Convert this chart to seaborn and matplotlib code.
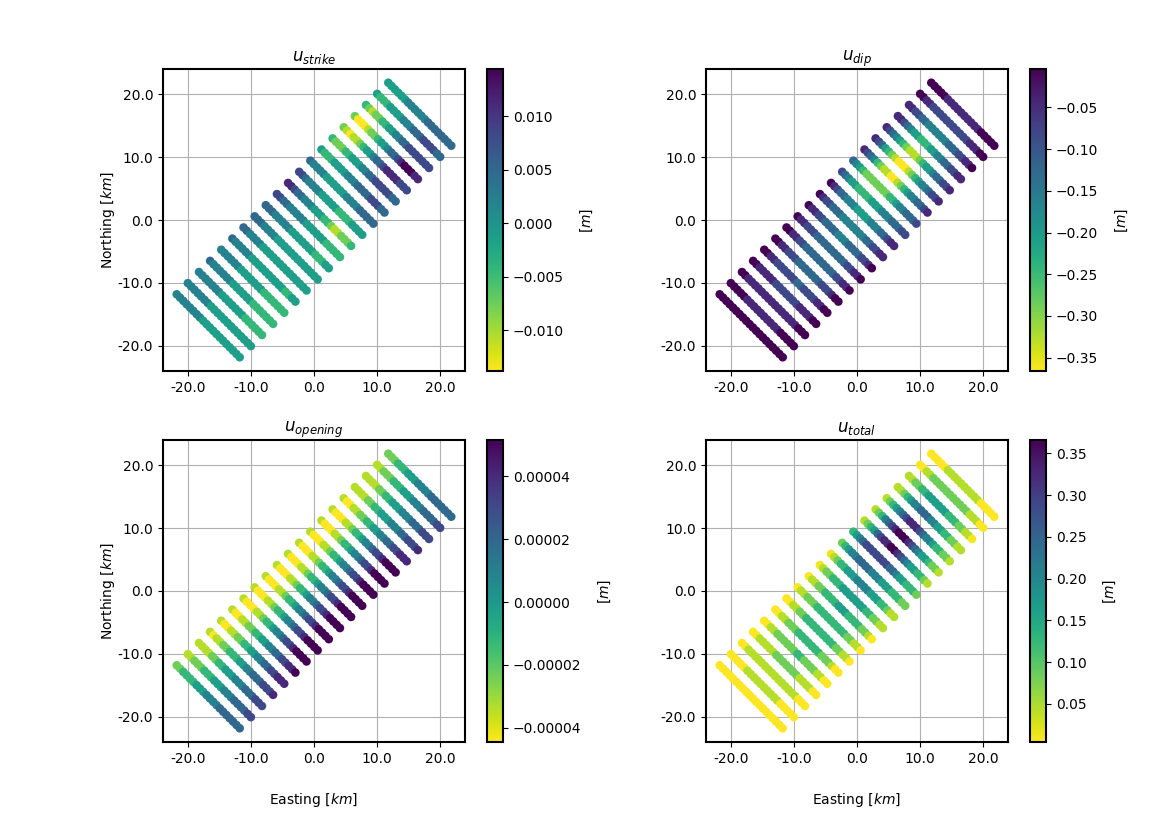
import numpy as np
import pandas as pd
import matplotlib
matplotlib.use("Agg")
import matplotlib.pyplot as plt
import seaborn as sns
from matplotlib.ticker import FormatStrFormatter, ScalarFormatter
from matplotlib.colors import Normalize
from matplotlib.cm import ScalarMappable

# ---------------- fault-patch geometry (km) ----------------
strike_deg = 45.0
along_strike_km = [-23.75, -21.25, -18.75, -16.25, -13.75, -11.25, -8.75, -6.25, -3.75, -1.25,
                   1.25, 3.75, 6.25, 8.75, 11.25, 13.75, 16.25, 18.75, 21.25, 23.75]
across_strike_km = [-7.07, -6.33, -5.58, -4.84, -4.09, -3.35, -2.61, -1.86, -1.12, -0.37,
                    0.37, 1.12, 1.86, 2.61, 3.35, 4.09, 4.84, 5.58, 6.33, 7.07]

# ---------------- values ----------------
# each string = one row of patches (SW -> NE), digits = colour level 0 (min) .. 9 (max)
strike_range = (-0.0138, 0.0144)
strike_levels = [
    "55555555444444444444",
    "55555554444444444444",
    "55555554444444333333",
    "65555554444443333333",
    "55555544444443333333",
    "65555544444444443344",
    "66555544444444444444",
    "66655554444444444444",
    "66655555444444433344",
    "77665555544444433333",
    "88766555444332112223",
    "77655554444433334444",
    "65555444444555566666",
    "43334444555666677766",
    "32223344455667777766",
    "21011234456678888777",
    "20001223445667899988",
    "32122334455667777777",
    "43334444555666777766",
    "44444455555566666666",
]

dip_range = (-0.366, -0.004)
dip_levels = [
    "99999999999999999999",
    "99999888888888899999",
    "99888888888888888999",
    "99888887777777888899",
    "99887777776677778899",
    "99887776666666777899",
    "99887766666666677889",
    "98877766666666677889",
    "98877666655566667789",
    "98776665555555667788",
    "98766555444455566788",
    "76544333344455566677",
    "65432222222334556667",
    "87653211001234556678",
    "87643210001234556778",
    "87654321112344566778",
    "88765443334455667788",
    "88776655555566677889",
    "99887777777777788899",
    "99999888888888899999",
]

opening_range = (-4.45e-5, 5.15e-5)
opening_levels = [
    "22333344455556666666",
    "11222333444555666677",
    "11112233444555666777",
    "10112233344556667778",
    "10011223344556677888",
    "10011223344556677889",
    "10001123345567789999",
    "10001123345567789999",
    "10001123345567789999",
    "10001123345567789999",
    "10001123345567789999",
    "10001123345567789999",
    "10001123345567789999",
    "10001123345567789999",
    "10001123345567789999",
    "10011223344556677888",
    "11112233444555667778",
    "11112233444555666777",
    "11222333444555666677",
    "22233344455556666666",
]


def levels_to_values(rows, vrange):
    lv = np.array([[int(c) for c in r] for r in rows], dtype=float)
    return vrange[0] + lv / 9.0 * (vrange[1] - vrange[0])


u_strike = levels_to_values(strike_levels, strike_range)
u_dip = levels_to_values(dip_levels, dip_range)
u_opening = levels_to_values(opening_levels, opening_range)
u_total = np.sqrt(u_strike ** 2 + u_dip ** 2 + u_opening ** 2)

S, P = np.meshgrid(np.array(along_strike_km), np.array(across_strike_km), indexing="ij")
th = np.deg2rad(strike_deg)
easting = S * np.sin(th) + P * np.cos(th)
northing = S * np.cos(th) - P * np.sin(th)

df = pd.DataFrame({
    "Easting": easting.ravel(),
    "Northing": northing.ravel(),
    "strike": u_strike.ravel(),
    "dip": u_dip.ravel(),
    "opening": u_opening.ravel(),
    "total": u_total.ravel(),
})

panels = [
    ("strike", r"$u_{strike}$"),
    ("dip", r"$u_{dip}$"),
    ("opening", r"$u_{opening}$"),
    ("total", r"$u_{total}$"),
]

W, H = 1169, 826
fig = plt.figure(figsize=(W / 100, H / 100), dpi=100)
plt.rcParams["axes.linewidth"] = 1.5

ax_px = [(163, 69), (706, 69), (163, 440), (706, 440)]
size_px = 302
cmap = plt.get_cmap("viridis_r")

for k, (col, title) in enumerate(panels):
    lx, ty = ax_px[k]
    ax = fig.add_axes([lx / W, 1 - (ty + size_px) / H, size_px / W, size_px / H])
    vmin, vmax = df[col].min(), df[col].max()
    norm = Normalize(vmin=vmin, vmax=vmax)
    sns.scatterplot(data=df, x="Easting", y="Northing", hue=col, palette=cmap,
                    hue_norm=norm, legend=False, s=38, linewidth=0, ax=ax)
    ax.set_aspect("equal")
    ax.grid(True, color="#b0b0b0", linewidth=0.8)
    ax.set_axisbelow(True)
    for sp in ax.spines.values():
        sp.set_linewidth(1.5)
    ax.xaxis.set_major_formatter(FormatStrFormatter("%.1f"))
    ax.yaxis.set_major_formatter(FormatStrFormatter("%.1f"))
    ax.set_xticks([-20, -10, 0, 10, 20])
    ax.set_yticks([-20, -10, 0, 10, 20])
    ax.set_title(title, fontsize=12)
    if k >= 2:
        ax.set_xlabel(r"Easting [$km$]", labelpad=18.5)
    else:
        ax.set_xlabel("")
    if k % 2 == 0:
        ax.set_ylabel(r"Northing [$km$]", labelpad=0.5)
    else:
        ax.set_ylabel("")

    cax = fig.add_axes([(lx + 324) / W, 1 - (ty + size_px) / H, 16 / W, size_px / H])
    cb = fig.colorbar(ScalarMappable(norm=norm, cmap=cmap), cax=cax)
    fmt = ScalarFormatter(useOffset=False)
    fmt.set_scientific(False)
    cb.formatter = fmt
    cb.update_ticks()
    cb.outline.set_linewidth(1.5)
    cb.set_label(r"[$m$]", labelpad=11)

fig.savefig("out.png", dpi=100)
